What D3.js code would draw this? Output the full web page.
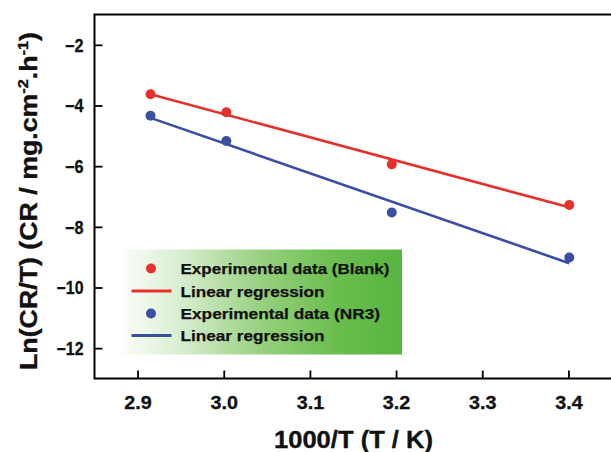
<!DOCTYPE html>
<html>
<head>
<meta charset="utf-8">
<script src="https://cdn.jsdelivr.net/npm/d3@7"></script>
<style>
  html, body { margin: 0; padding: 0; background: #fff; }
  svg { display: block; font-family: "Liberation Sans", Arial, sans-serif; font-weight: bold; }
</style>
</head>
<body>
<svg id="chart" width="611" height="452"></svg>
<script>
// Arrhenius-type plot: ln(CR/T) against 1000/T
const invT = [2.915, 3.003, 3.195, 3.401];
const blankLn = [-3.63, -4.22, -5.94, -7.28];
const nr3Ln = [-4.34, -5.17, -7.53, -9.01];
const xTicks = [2.9, 3.0, 3.1, 3.2, 3.3, 3.4];
const yTicks = [-2, -4, -6, -8, -10, -12];
const legendLabels = ["Experimental data (Blank)", "Linear regression", "Experimental data (NR3)", "Linear regression"];

const red = "#e6302b", blue = "#3b4fa2";
const ink = "#111";

const svg = d3.select("#chart");
const x = d3.scaleLinear().domain([2.85, 3.45]).range([94.5, 611.5]);
const y = d3.scaleLinear().domain([-13, -1]).range([378.5, 14.5]);

// least-squares fit of a series against invT
function fit(xs, ys) {
  const mx = d3.mean(xs), my = d3.mean(ys);
  const sxy = d3.sum(xs, (v, i) => (v - mx) * (ys[i] - my));
  const sxx = d3.sum(xs, v => (v - mx) * (v - mx));
  const b = sxy / sxx, a = my - b * mx;
  const x0 = d3.min(xs), x1 = d3.max(xs);
  return [[x0, a + b * x0], [x1, a + b * x1]];
}

// legend background gradient
const defs = svg.append("defs");
const grad = defs.append("linearGradient").attr("id", "legendBg").attr("x1", "0").attr("x2", "1").attr("y1", "0").attr("y2", "0");
[[0, "#f9fdf8"], [0.2, "#d8eed0"], [0.5, "#96d07e"], [0.75, "#6cbf4f"], [1, "#57b43f"]]
  .forEach(([o, c]) => grad.append("stop").attr("offset", o).attr("stop-color", c));

// axes with inward ticks
const xAxis = svg.append("g").attr("transform", `translate(0,${y(-13)})`)
  .call(d3.axisBottom(x).tickValues(xTicks).tickFormat(d3.format(".1f")).tickSizeInner(-8).tickSizeOuter(0).tickPadding(0));
xAxis.select(".domain").remove();
xAxis.selectAll(".tick line").attr("stroke", "#000").attr("stroke-width", 1.8);
xAxis.selectAll(".tick text").attr("y", 30).attr("dy", null).attr("font-size", 18).attr("fill", ink)
  .attr("stroke", ink).attr("stroke-width", 0.3)
  .attr("font-family", "Liberation Sans, Arial, sans-serif").attr("font-weight", "bold")
  .attr("textLength", 27.5).attr("lengthAdjust", "spacingAndGlyphs");

const yAxis = svg.append("g").attr("transform", `translate(${x(2.85)},0)`)
  .call(d3.axisLeft(y).tickValues(yTicks).tickFormat(d3.format("d")).tickSizeInner(-8).tickSizeOuter(0).tickPadding(11));
yAxis.select(".domain").remove();
yAxis.selectAll(".tick line").attr("stroke", "#000").attr("stroke-width", 1.8);
yAxis.selectAll(".tick text").attr("dy", "0.36em").attr("font-size", 18).attr("fill", ink)
  .attr("stroke", ink).attr("stroke-width", 0.3)
  .attr("font-family", "Liberation Sans, Arial, sans-serif").attr("font-weight", "bold")
  .attr("textLength", d => String(d).length === 2 ? 18.5 : 27).attr("lengthAdjust", "spacingAndGlyphs");

// plot frame (right side runs past the edge of the page)
svg.append("path")
  .attr("d", `M${x(3.45) + 4},${y(-1)}H${x(2.85)}V${y(-13)}H${x(3.45) + 4}`)
  .attr("fill", "none").attr("stroke", "#000").attr("stroke-width", 2);

// regression lines and data points
const series = [
  { ys: blankLn, color: red },
  { ys: nr3Ln, color: blue }
];
const line = d3.line().x(d => x(d[0])).y(d => y(d[1]));
series.forEach(s => {
  svg.append("path").attr("d", line(fit(invT, s.ys)))
    .attr("stroke", s.color).attr("stroke-width", 2.6).attr("fill", "none");
  svg.append("g").selectAll("circle").data(invT).join("circle")
    .attr("cx", d => x(d)).attr("cy", (d, i) => y(s.ys[i]))
    .attr("r", 5).attr("fill", s.color);
});

// legend
const lg = svg.append("g");
lg.append("rect").attr("x", 124).attr("y", 249.5).attr("width", 278).attr("height", 105).attr("fill", "url(#legendBg)");
const rowY = [268.5, 291, 313.5, 335.5];
const textLen = [209, 144, 199.5, 144];
const kinds = [["dot", red], ["line", red], ["dot", blue], ["line", blue]];
kinds.forEach(([k, c], i) => {
  if (k === "dot") {
    lg.append("circle").attr("cx", 151).attr("cy", rowY[i]).attr("r", 5).attr("fill", c);
  } else {
    lg.append("line").attr("x1", 131.5).attr("x2", 171.5).attr("y1", rowY[i]).attr("y2", rowY[i])
      .attr("stroke", c).attr("stroke-width", 3);
  }
  lg.append("text").attr("x", 180.5).attr("y", rowY[i] + 5.5).attr("font-size", 15.5).attr("fill", ink)
    .attr("stroke", ink).attr("stroke-width", 0.25)
    .attr("textLength", textLen[i]).attr("lengthAdjust", "spacingAndGlyphs").text(legendLabels[i]);
});

// axis titles
svg.append("text").attr("x", 353.5).attr("y", 448).attr("text-anchor", "middle")
  .attr("font-size", 23).attr("fill", ink).attr("stroke", ink).attr("stroke-width", 0.35)
  .attr("textLength", 159).attr("lengthAdjust", "spacingAndGlyphs").text("1000/T (T / K)");

const yt = svg.append("text").attr("transform", "translate(36.5,201) rotate(-90)")
  .attr("text-anchor", "middle").attr("font-size", 23).attr("fill", ink)
  .attr("stroke", ink).attr("stroke-width", 0.35)
  .attr("textLength", 338).attr("lengthAdjust", "spacingAndGlyphs");
yt.append("tspan").text("Ln(CR/T) (CR / mg.cm");
yt.append("tspan").attr("dy", -9).attr("font-size", 14).text("-2");
yt.append("tspan").attr("dy", 9).text(".h");
yt.append("tspan").attr("dy", -9).attr("font-size", 14).text("-1");
yt.append("tspan").attr("dy", 9).text(")");
</script>
</body>
</html>
